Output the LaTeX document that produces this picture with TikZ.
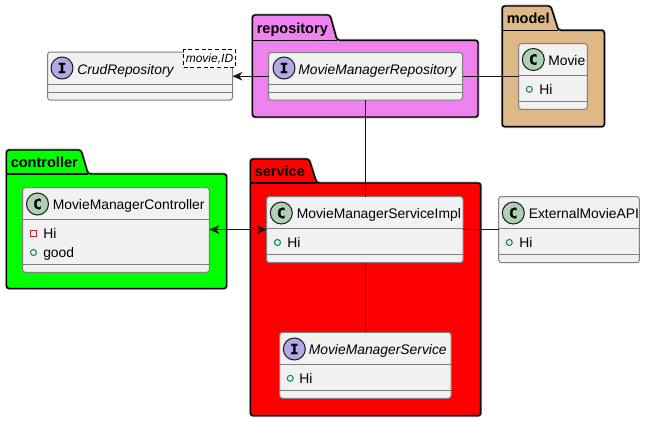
\documentclass[tikz,border=0pt]{standalone}
\usepackage{fontspec}
\setmainfont{Liberation Sans}
\newfontfamily\circfont[BoldFeatures={FakeBold=1.6}]{DejaVu Sans Mono}
\usetikzlibrary{arrows.meta}
\definecolor{boxbg}{HTML}{F1F1F1}
\definecolor{boxline}{HTML}{7F7F7F}
\definecolor{ink}{HTML}{181818}
\definecolor{classc}{HTML}{ADD1B2}
\definecolor{ifacec}{HTML}{B4A7E5}
\definecolor{pubgreen}{HTML}{038048}
\definecolor{privred}{HTML}{C82930}
\definecolor{pkgviolet}{HTML}{EE82EE}
\definecolor{pkgburly}{HTML}{DEB887}
\definecolor{pkglime}{HTML}{00FF00}
\definecolor{pkgred}{HTML}{FF0000}
\tikzset{
  umlbox/.style={draw=boxline,fill=boxbg,line width=.75pt,rounded corners=2pt,inner sep=0pt,outer sep=0pt},
  sepline/.style={draw=boxline,line width=.75pt},
  spot/.style={circle,draw=ink,line width=.75pt,minimum size=16.5pt,inner sep=0pt,font=\circfont\fontsize{10.5pt}{10.5pt}\selectfont\bfseries,text=black},
  title/.style={anchor=base west,inner sep=0pt,font=\fontsize{10.4pt}{12pt}\selectfont,text=black},
  ititle/.style={title,font=\fontsize{10.4pt}{12pt}\selectfont\itshape},
  pub/.style={circle,draw=pubgreen,line width=.75pt,minimum size=4.5pt,inner sep=0pt},
  priv/.style={rectangle,draw=privred,line width=.75pt,minimum size=4.5pt,inner sep=0pt},
  pkgname/.style={anchor=base west,inner sep=0pt,font=\fontsize{10.9pt}{12pt}\selectfont\bfseries,text=black},
  pkgline/.style={draw=black,line width=1.1pt,rounded corners=2pt},
  pkghalo/.style={draw=black!35,line width=2pt,rounded corners=2pt},
  conn/.style={draw=ink,line width=.75pt},
  generic/.style={draw=black,fill=white,densely dashed,line width=.6pt,inner sep=0pt,outer sep=0pt,minimum width=39pt,minimum height=13.5pt,font=\fontsize{9pt}{10pt}\selectfont\itshape}
}
% name, x0,y0,x1,y1, sep1, sep2
\newcommand{\umlrect}[7]{%
  \node[umlbox,minimum width=#4*.75pt-#2*.75pt,minimum height=#5*.75pt-#3*.75pt] (#1) at ({(#2+#4)/2},{(#3+#5)/2}) {};
  \draw[sepline] (#2,#6) -- (#4,#6);
  \draw[sepline] (#2,#7) -- (#4,#7);
}
% x0 y0 tabRightTop tabRightBottom y(body top) x1 y1 fill
\newcommand{\pkgshape}[8]{%
  \foreach \st in {pkghalo,pkgline}{%
    \path[\st,fill=#8] (#1,#2) -- (#3,#2) -- (#4,#5) -- (#6,#5) -- (#6,#7) -- (#1,#7) -- cycle;
  }
  \draw[black,line width=1.1pt] (#1,#5) -- (#4,#5);
}
\begin{document}
\begin{tikzpicture}[x=.75pt,y=-.75pt]
\useasboundingbox[fill=white] (0,0) rectangle (645,421);

% packages
\pkgshape{252.5}{15}{330}{337}{40.3}{478}{117}{pkgviolet}
\node[pkgname] (pkgrepository) at (256.5,33) {repository};
\pkgshape{502.3}{6}{550.7}{558.3}{30.3}{604.3}{126.7}{pkgburly}
\node[pkgname] (pkgmodel) at (506.5,23.5) {model};
\pkgshape{6.5}{150}{81}{88}{174}{226.5}{288.5}{pkglime}
\node[pkgname] (pkgcontroller) at (10.5,167.5) {controller};
\pkgshape{250.5}{159}{309}{316.7}{183}{480.7}{415.7}{pkgred}
\node[pkgname] (pkgservice) at (254.5,176.5) {service};

% CrudRepository
\umlrect{crud}{47.5}{52}{232.5}{100}{84.5}{92.5}
\node[spot,fill=ifacec] (crudspot) at (62,68) {I};
\node[ititle] (crudtitle) at (77,74) {CrudRepository};
\node[generic] (crudgeneric) at (209.5,58.5) {movie,ID};

% MovieManagerRepository
\umlrect{repo}{268.5}{52.5}{462.5}{100}{84.5}{92.5}
\node[spot,fill=ifacec] (repospot) at (284,68) {I};
\node[ititle] (repotitle) at (298,74) {MovieManagerRepository};

% Movie
\umlrect{movie}{518.7}{43.5}{587.3}{109.3}{75.5}{101.5}
\node[spot,fill=classc] (moviespot) at (533.3,59.5) {C};
\node[title] (movietitle) at (548,65) {Movie};
\node[pub] (moviedot) at (529.3,89.3) {};
\node[title] (moviehi) at (539,94.5) {Hi};

% MovieManagerController
\umlrect{ctrl}{22.7}{187.7}{209.3}{272.3}{219.5}{264.5}
\node[spot,fill=classc] (ctrlspot) at (37.5,204) {C};
\node[title] (ctrltitle) at (52.5,209.5) {MovieManagerController};
\node[priv] (ctrlsq) at (33.5,233.3) {};
\node[title] (ctrlhi) at (43,238.5) {Hi};
\node[pub] (ctrldot) at (33.5,252.5) {};
\node[title] (ctrlgood) at (43,257.5) {good};

% MovieManagerServiceImpl
\umlrect{impl}{266.7}{196.5}{463}{262.7}{228.7}{254.7}
\node[spot,fill=classc] (implspot) at (281.3,213) {C};
\node[title] (impltitle) at (296.5,218.5) {MovieManagerServiceImpl};
\node[pub] (impldot) at (277.5,242.5) {};
\node[title] (implhi) at (287,247.5) {Hi};

% MovieManagerService
\umlrect{svc}{279.7}{332.3}{451}{398.3}{364.7}{390.3}
\node[spot,fill=ifacec] (svcspot) at (294.3,349) {I};
\node[ititle] (svctitle) at (308.5,354.5) {MovieManagerService};
\node[pub] (svcdot) at (290.3,378.3) {};
\node[title] (svchi) at (299,383.5) {Hi};

% ExternalMovieAPI
\umlrect{ext}{498.7}{196.5}{639.3}{262.7}{228.7}{254.7}
\node[spot,fill=classc] (extspot) at (513.3,213) {C};
\node[title] (exttitle) at (528.5,218.5) {ExternalMovieAPI};
\node[pub] (extdot) at (509.3,242.5) {};
\node[title] (exthi) at (519,247.5) {Hi};

% connectors
\draw[conn,-{Stealth[length=7.5pt,width=6.5pt,inset=2.4pt]}] (repo.west) -- (repo.west -| crud.east);
\draw[conn] (repo.east) -- (repo.east -| movie.west);
\draw[conn] (repo.south) -- (repo.south |- impl.north);
\draw[conn,{Stealth[length=7.5pt,width=6.5pt,inset=2.4pt]}-{Stealth[length=7.5pt,width=6.5pt,inset=2.4pt]}] (impl.west -| ctrl.east) -- (impl.west);
\draw[conn] (impl.east) -- (ext.west);
\draw[conn] (svc.north |- impl.south) -- (svc.north);
\end{tikzpicture}
\end{document}
